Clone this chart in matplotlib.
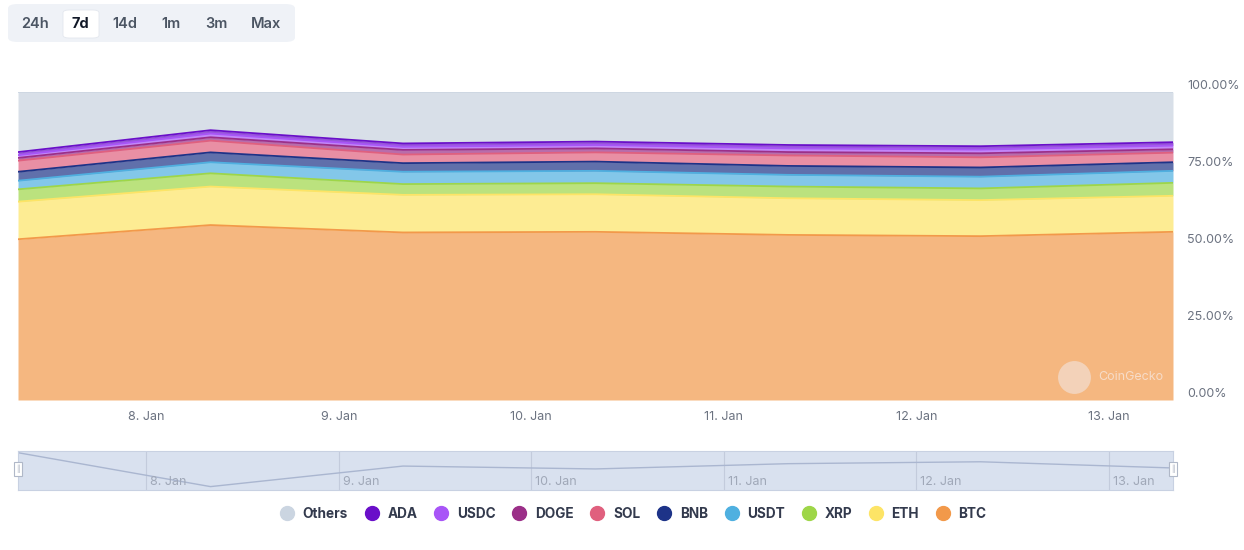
"""
Market cap dominance, 7d view (stacked area, percent)
"""

import matplotlib
matplotlib.use("Agg")
import matplotlib.pyplot as plt
import matplotlib.dates as mdates
from matplotlib.patches import FancyBboxPatch
import numpy as np
import pandas as pd

# data (daily points at 08:00)
dates = pd.to_datetime(["2024-01-07 08:00", "2024-01-08 08:00", "2024-01-09 08:00",
                        "2024-01-10 08:00", "2024-01-11 08:00", "2024-01-12 08:00",
                        "2024-01-13 08:00"])
btc = [52.2, 56.8, 54.4, 54.6, 53.6, 53.2, 54.6]
eth = [12.2, 12.5, 12.2, 12.2, 11.9, 11.7, 11.7]
xrp = [4.0, 4.3, 3.5, 3.6, 3.8, 3.8, 4.2]
usdt = [2.8, 3.6, 4.0, 4.0, 3.8, 3.8, 3.9]
bnb = [2.9, 3.2, 2.8, 3.0, 2.9, 3.0, 2.8]
sol = [3.6, 3.8, 2.8, 3.0, 3.4, 3.3, 3.1]
doge = [0.9, 1.1, 1.5, 1.3, 1.1, 1.3, 1.1]
usdc = [0.9, 1.2, 1.0, 1.1, 1.2, 1.2, 1.2]
ada = [1.0, 1.1, 1.1, 1.1, 1.1, 1.1, 1.1]

names = ["BTC", "ETH", "XRP", "USDT", "BNB", "SOL", "DOGE", "USDC", "ADA"]
series = [btc, eth, xrp, usdt, bnb, sol, doge, usdc, ada]
colors = ["#f2994a", "#fde466", "#9ed648", "#4fb0e0", "#1d3388",
          "#e0607e", "#9b2f88", "#a855f7", "#6a0fc9"]
others_color = "#cbd5e1"

tick_days = pd.to_datetime(["2024-01-08", "2024-01-09", "2024-01-10",
                            "2024-01-11", "2024-01-12", "2024-01-13"])
tick_labels = ["8. Jan", "9. Jan", "10. Jan", "11. Jan", "12. Jan", "13. Jan"]
y_ticks = [0, 25, 50, 75, 100]
buttons = ["24h", "7d", "14d", "1m", "3m", "Max"]

plt.rcParams['font.family'] = ['Inter', 'DejaVu Sans']

fig = plt.figure(figsize=(12.44, 5.5), dpi=100)
W, H = 1244, 550

def px_axes(x0, y0, x1, y1):
    return fig.add_axes([x0 / W, 1 - y1 / H, (x1 - x0) / W, (y1 - y0) / H])

# main chart
ax = px_axes(18, 92, 1173, 400)
x = mdates.date2num(dates)
base = np.zeros(len(x))
for vals, c in zip(series, colors):
    top = base + np.array(vals)
    ax.fill_between(x, base, top, color=c, alpha=0.7, lw=0)
    ax.plot(x, top, color=c, lw=1.3)
    base = top
ax.fill_between(x, base, 100, color=others_color, alpha=0.75, lw=0)
ax.plot(x, [100] * len(x), color=others_color, lw=1.3)

ax.set_xlim(x[0], x[-1])
ax.set_ylim(0, 100)
for s in ax.spines.values():
    s.set_visible(False)
ax.yaxis.tick_right()
ax.set_yticks(y_ticks)
ax.set_yticklabels([f"{v:.2f}%" for v in y_ticks])
ax.set_xticks(mdates.date2num(tick_days))
ax.set_xticklabels(tick_labels)
ax.tick_params(axis='both', length=0, labelsize=9, labelcolor="#6b7280")
ax.tick_params(axis='y', pad=10)
ax.tick_params(axis='x', pad=8)
for lab in ax.get_yticklabels():
    lab.set_verticalalignment('bottom')

# watermark
ax.scatter([0.914], [0.074], s=560, transform=ax.transAxes, color="#f3d6c0",
           alpha=0.9, lw=0, zorder=5)
ax.text(0.935, 0.074, "CoinGecko", transform=ax.transAxes, fontsize=9,
        color="#f7dcc8", va="center", ha="left", zorder=5)

# navigator
nav = px_axes(18, 451, 1173, 490)
nav.set_facecolor("#d9e1ef")
others = 100 - base
nav.plot(x, others, color="#aab6d0", lw=1)
nav.set_xlim(x[0], x[-1])
lo, hi = others.min(), others.max()
nav.set_ylim(lo - (hi - lo) * 0.1, hi + (hi - lo) * 0.05)
for s in nav.spines.values():
    s.set_color("#c8d1e2")
nav.set_yticks([])
nav.set_xticks(mdates.date2num(tick_days))
nav.set_xticklabels([])
nav.tick_params(length=0)
nav.grid(axis='x', color="#c3cbdc", lw=0.8)
for d, lab in zip(mdates.date2num(tick_days), tick_labels):
    nav.text(d + 0.02, 0.05, lab, fontsize=9, color="#a0a8b8", va="bottom", ha="left",
             transform=nav.get_xaxis_transform())
for hx in [18, 1173]:
    fig.patches.append(FancyBboxPatch(((hx - 4) / W, 1 - 476 / H), 8 / W, 14 / H,
                                      boxstyle="square,pad=0", transform=fig.transFigure,
                                      facecolor="white", edgecolor="#b0b8c8", lw=0.8))
    fig.text(hx / W, 1 - 469 / H, "||", fontsize=5, color="#a0a8b8", ha="center", va="center")

# legend
leg_items = [("Others", others_color)] + list(zip(names[::-1], colors[::-1]))
handles = [plt.Line2D([], [], marker='o', ls='', markersize=10, color=c) for _, c in leg_items]
leg = fig.legend(handles, [n for n, _ in leg_items], loc='center', ncol=len(leg_items),
                 bbox_to_anchor=(630 / W, 1 - 514 / H), frameon=False,
                 handletextpad=0.15, columnspacing=0.75, fontsize=9.8)
for t in leg.get_texts():
    t.set_fontweight('bold')
    t.set_color("#333a4d")

# range buttons
fig.patches.append(FancyBboxPatch((8 / W, 1 - 42 / H), 287 / W, 38 / H,
                                  boxstyle="round,pad=0,rounding_size=0.008",
                                  transform=fig.transFigure, facecolor="#eff2f7",
                                  edgecolor="none"))
fig.patches.append(FancyBboxPatch((63 / W, 1 - 38 / H), 36 / W, 28 / H,
                                  boxstyle="round,pad=0,rounding_size=0.005",
                                  transform=fig.transFigure, facecolor="white",
                                  edgecolor="#e3e7ee", lw=0.6))
for b, bx in zip(buttons, [35, 80, 125, 171, 216, 266]):
    fig.text(bx / W, 1 - 24 / H, b, fontsize=10.5, ha="center", va="center",
             fontweight='bold' if b == "7d" else 'semibold',
             color="#111827" if b == "7d" else "#4b5563")

fig.savefig("out.png", dpi=100)
